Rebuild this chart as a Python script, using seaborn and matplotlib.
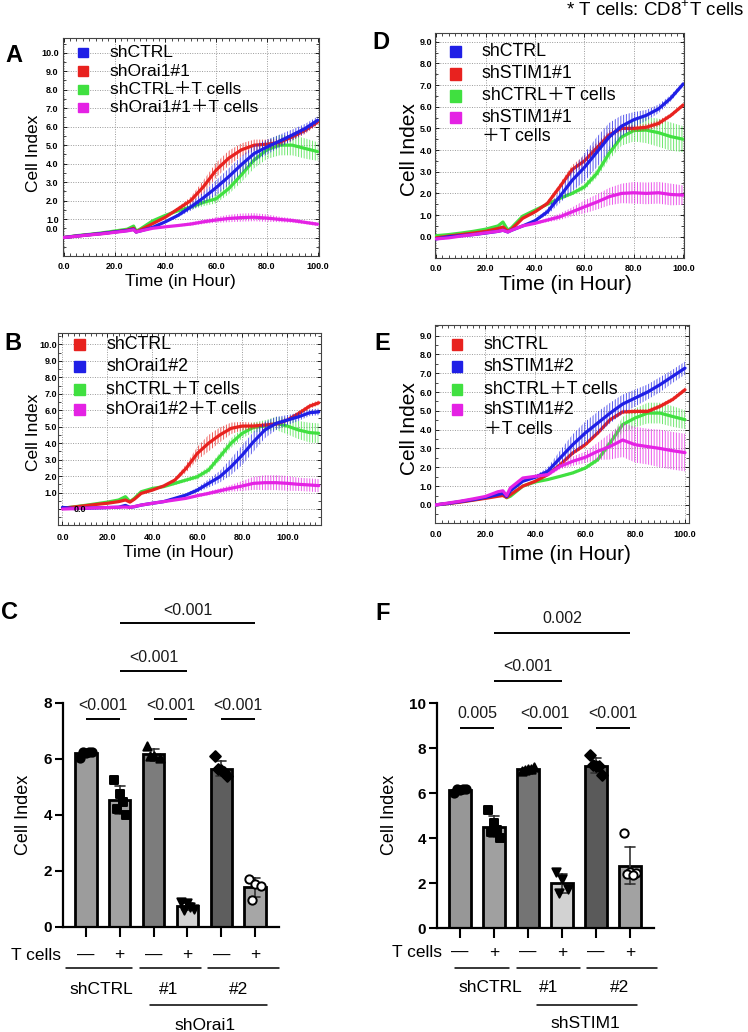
import numpy as np
import pandas as pd
import matplotlib
matplotlib.use("Agg")
import matplotlib.pyplot as plt
import seaborn as sns
from matplotlib.colors import to_rgba
from matplotlib.patches import Rectangle
from matplotlib.ticker import MultipleLocator
from matplotlib.transforms import blended_transform_factory

# ---- time course data (Cell Index) ----
t_a = [0, 5, 10, 15, 20, 25, 27.5, 28.5, 30, 35, 40, 45, 50, 55, 60, 65, 70, 75, 80, 85, 90, 95, 100]
a_ctrl = [0.0, 0.08, 0.15, 0.22, 0.3, 0.38, 0.45, 0.3, 0.35, 0.55, 0.85, 1.2, 1.65, 2.15, 2.7, 3.3, 3.95, 4.55, 4.9, 5.22, 5.55, 5.9, 6.35]
a_orai1 = [0.0, 0.08, 0.15, 0.22, 0.3, 0.4, 0.5, 0.3, 0.4, 0.75, 1.1, 1.55, 2.0, 2.75, 3.65, 4.3, 4.75, 5.0, 5.05, 5.15, 5.45, 5.8, 6.25]
a_ctrl_t = [0.0, 0.1, 0.17, 0.25, 0.35, 0.45, 0.62, 0.35, 0.45, 0.9, 1.2, 1.45, 1.65, 1.9, 2.1, 2.65, 3.4, 4.2, 4.75, 5.0, 5.0, 4.82, 4.65]
a_orai1_t = [0.0, 0.07, 0.14, 0.2, 0.28, 0.36, 0.42, 0.3, 0.35, 0.5, 0.58, 0.65, 0.73, 0.85, 0.95, 1.03, 1.08, 1.1, 1.05, 0.98, 0.92, 0.82, 0.72]
a_ctrl_sd = [0, 0, 0, 0, 0, 0, 0, 0, 0, 0, 0.05, 0.1, 0.2, 0.3, 0.4, 0.45, 0.45, 0.45, 0.4, 0.35, 0.3, 0.25, 0.2]
a_orai1_sd = [0, 0, 0, 0, 0, 0, 0, 0, 0, 0, 0.05, 0.1, 0.2, 0.35, 0.4, 0.4, 0.35, 0.3, 0.25, 0.2, 0.2, 0.2, 0.15]
a_ctrl_t_sd = [0, 0, 0, 0, 0, 0, 0, 0, 0, 0, 0.05, 0.1, 0.15, 0.2, 0.25, 0.3, 0.4, 0.45, 0.5, 0.55, 0.55, 0.55, 0.5]
a_orai1_t_sd = [0, 0, 0, 0, 0, 0, 0, 0, 0, 0, 0.02, 0.05, 0.1, 0.12, 0.15, 0.2, 0.22, 0.22, 0.2, 0.15, 0.12, 0.1, 0.1]

t_b = [0, 5, 10, 15, 20, 25, 28, 30, 32, 35, 40, 45, 50, 55, 60, 65, 70, 75, 80, 85, 90, 95, 100, 105, 110, 114]
b_ctrl = [0.05, 0.12, 0.2, 0.28, 0.35, 0.45, 0.55, 0.42, 0.6, 0.95, 1.15, 1.4, 1.76, 2.47, 3.38, 4.0, 4.5, 4.9, 5.04, 5.04, 5.1, 5.16, 5.4, 5.8, 6.25, 6.45]
b_orai1 = [0.1, 0.03, 0.05, 0.07, 0.09, 0.11, 0.22, 0.1, 0.14, 0.24, 0.35, 0.45, 0.65, 0.85, 1.15, 1.56, 1.96, 2.57, 3.28, 4.09, 4.8, 5.2, 5.4, 5.6, 5.85, 5.9]
b_ctrl_t = [0.05, 0.13, 0.22, 0.32, 0.42, 0.55, 0.75, 0.45, 0.65, 1.05, 1.25, 1.36, 1.56, 1.76, 1.96, 2.37, 3.18, 4.0, 4.6, 4.96, 5.04, 5.2, 5.04, 4.8, 4.64, 4.6]
b_orai1_t = [0.0, 0.02, 0.05, 0.07, 0.09, 0.11, 0.12, 0.1, 0.15, 0.24, 0.35, 0.45, 0.55, 0.65, 0.81, 0.95, 1.11, 1.26, 1.4, 1.56, 1.6, 1.6, 1.56, 1.5, 1.46, 1.42]
b_ctrl_sd = [0, 0, 0, 0, 0, 0, 0, 0, 0, 0, 0, 0.05, 0.1, 0.25, 0.4, 0.5, 0.45, 0.35, 0.25, 0.2, 0.15, 0.15, 0.15, 0.15, 0.15, 0.15]
b_orai1_sd = [0, 0, 0, 0, 0, 0, 0, 0, 0, 0, 0, 0.0, 0.05, 0.1, 0.15, 0.25, 0.35, 0.5, 0.6, 0.6, 0.5, 0.4, 0.3, 0.25, 0.2, 0.2]
b_ctrl_t_sd = [0, 0, 0, 0, 0, 0, 0, 0, 0, 0, 0, 0.05, 0.1, 0.12, 0.15, 0.2, 0.25, 0.3, 0.3, 0.3, 0.35, 0.4, 0.5, 0.55, 0.6, 0.6]
b_orai1_t_sd = [0, 0, 0, 0, 0, 0, 0, 0, 0, 0, 0, 0.0, 0.05, 0.05, 0.1, 0.12, 0.15, 0.2, 0.3, 0.4, 0.45, 0.45, 0.45, 0.4, 0.4, 0.4]

t_d = [0, 5, 10, 15, 20, 25, 27, 29, 30.5, 35, 40, 45, 50, 55, 60, 65, 70, 75, 80, 85, 90, 95, 100]
d_ctrl = [-0.1, 0.0, 0.05, 0.1, 0.17, 0.25, 0.3, 0.22, 0.3, 0.5, 0.74, 1.15, 1.85, 2.6, 3.2, 3.9, 4.6, 5.1, 5.4, 5.6, 5.9, 6.4, 7.05]
d_stim1 = [-0.05, 0.03, 0.1, 0.17, 0.25, 0.38, 0.45, 0.25, 0.35, 0.85, 1.15, 1.54, 2.3, 3.1, 3.5, 4.1, 4.7, 5.0, 5.0, 5.05, 5.23, 5.6, 6.08]
d_ctrl_t = [0.05, 0.1, 0.17, 0.25, 0.35, 0.5, 0.68, 0.3, 0.42, 0.95, 1.23, 1.5, 1.77, 2.0, 2.3, 2.92, 3.85, 4.6, 4.9, 4.92, 4.8, 4.62, 4.5]
d_stim1_t = [-0.1, -0.05, 0.03, 0.1, 0.18, 0.25, 0.3, 0.22, 0.3, 0.5, 0.62, 0.77, 0.92, 1.15, 1.38, 1.6, 1.85, 2.0, 2.03, 2.0, 2.03, 1.95, 1.92]
d_ctrl_sd = [0, 0, 0, 0, 0, 0, 0, 0, 0, 0, 0.05, 0.15, 0.3, 0.5, 0.65, 0.7, 0.65, 0.5, 0.35, 0.25, 0.2, 0.15, 0.1]
d_stim1_sd = [0, 0, 0, 0, 0, 0, 0, 0, 0, 0, 0.05, 0.1, 0.15, 0.2, 0.25, 0.25, 0.2, 0.15, 0.15, 0.15, 0.15, 0.1, 0.1]
d_ctrl_t_sd = [0, 0, 0, 0, 0, 0, 0, 0, 0, 0, 0.02, 0.05, 0.08, 0.1, 0.15, 0.2, 0.3, 0.4, 0.5, 0.6, 0.65, 0.65, 0.6]
d_stim1_t_sd = [0, 0, 0, 0, 0, 0, 0, 0, 0, 0, 0.05, 0.1, 0.15, 0.2, 0.3, 0.35, 0.4, 0.45, 0.5, 0.5, 0.5, 0.5, 0.45]

t_e = [0, 5, 10, 15, 20, 25, 27, 28.5, 30, 35, 40, 45, 50, 55, 60, 65, 70, 75, 80, 85, 90, 95, 100]
e_ctrl = [0.0, 0.07, 0.15, 0.25, 0.35, 0.46, 0.5, 0.4, 0.55, 1.0, 1.26, 1.61, 2.14, 2.76, 3.2, 3.82, 4.53, 4.94, 4.97, 4.97, 5.24, 5.6, 6.12]
e_stim1 = [0.0, 0.08, 0.18, 0.28, 0.4, 0.55, 0.62, 0.45, 0.75, 1.26, 1.47, 1.79, 2.5, 3.2, 3.82, 4.35, 4.88, 5.36, 5.68, 6.0, 6.39, 6.83, 7.27]
e_ctrl_t = [0.0, 0.08, 0.17, 0.27, 0.38, 0.55, 0.6, 0.38, 0.46, 1.0, 1.22, 1.35, 1.52, 1.7, 1.96, 2.4, 3.3, 4.27, 4.62, 4.88, 4.88, 4.7, 4.53]
e_stim1_t = [0.0, 0.1, 0.2, 0.32, 0.45, 0.7, 0.75, 0.5, 0.9, 1.43, 1.52, 1.61, 2.05, 2.32, 2.53, 2.85, 3.11, 3.45, 3.2, 3.1, 3.0, 2.88, 2.78]
e_ctrl_sd = [0, 0, 0, 0, 0, 0, 0, 0, 0, 0, 0.05, 0.08, 0.1, 0.12, 0.12, 0.12, 0.12, 0.12, 0.12, 0.12, 0.12, 0.12, 0.12]
e_stim1_sd = [0, 0, 0, 0, 0, 0, 0, 0, 0, 0, 0.1, 0.2, 0.4, 0.55, 0.6, 0.6, 0.55, 0.5, 0.45, 0.4, 0.4, 0.35, 0.35]
e_ctrl_t_sd = [0, 0, 0, 0, 0, 0, 0, 0, 0, 0, 0.02, 0.05, 0.05, 0.08, 0.1, 0.15, 0.25, 0.4, 0.5, 0.55, 0.55, 0.55, 0.5]
e_stim1_t_sd = [0, 0, 0, 0, 0, 0, 0, 0, 0, 0, 0.05, 0.1, 0.15, 0.25, 0.3, 0.45, 0.7, 0.9, 0.95, 0.95, 1.0, 1.0, 1.0]

# ---- end point bars (individual replicates) ----
bar_groups = ["shCTRL -", "shCTRL +", "#1 -", "#1 +", "#2 -", "#2 +"]
c_ctrl = [6.05, 6.2, 6.25, 6.25, 6.25]
c_ctrl_t = [5.25, 4.75, 4.0, 4.2, 4.45]
c_orai1_1 = [6.45, 6.1, 6.05, 6.1]
c_orai1_1_t = [0.9, 0.85, 0.65, 0.6, 0.7]
c_orai1_2 = [6.1, 5.6, 5.4, 5.65, 5.55]
c_orai1_2_t = [1.7, 1.55, 1.45, 0.95]
f_ctrl = [6.0, 6.15, 6.2, 6.2, 6.2]
f_ctrl_t = [5.25, 4.7, 4.0, 4.3, 4.35]
f_stim1_1 = [7.0, 7.1, 7.15, 7.05, 7.1]
f_stim1_1_t = [2.5, 2.2, 1.75, 1.55]
f_stim1_2 = [7.7, 7.2, 6.8, 7.25, 7.2]
f_stim1_2_t = [4.25, 2.5, 2.45, 2.4, 2.35]
c_pvals = ["<0.001", "<0.001", "<0.001", "<0.001", "<0.001"]
f_pvals = ["0.005", "<0.001", "<0.001", "<0.001", "0.002"]

BLUE, RED, GREEN, MAG = "#1f1fe6", "#e8221f", "#40e040", "#e422e4"
LAYER = {GREEN: 3, RED: 4, BLUE: 5, MAG: 6}

sns.set_theme(style="white")
plt.rcParams["font.family"] = ["Liberation Sans", "Noto Sans CJK JP", "DejaVu Sans"]
plt.rcParams["mathtext.fontset"] = "custom"
plt.rcParams["mathtext.rm"] = "Liberation Sans"
plt.rcParams["hatch.linewidth"] = 0.7
for k in ["text.color", "axes.labelcolor", "xtick.color", "ytick.color"]:
    plt.rcParams[k] = "black"

W, H = 748, 1032
fig = plt.figure(figsize=(W / 100, H / 100), dpi=100)


def fx(x):
    return x / W


def fy(y):
    return 1 - y / H


def rect(l, t, r, b):
    return [l / W, 1 - b / H, (r - l) / W, (b - t) / H]


def time_panel(box, t, series, xlim, ylim, ytop, xpad, ypad):
    ax = fig.add_axes(rect(*box))
    for label, color, mean, sd in series:
        m, s = np.array(mean), np.array(sd)
        z = LAYER[color]
        with plt.rc_context({"hatch.color": color}):
            ax.fill_between(t, m - s, m + s, facecolor="none",
                            edgecolor=to_rgba(color, 0.75), hatch="||||||",
                            linewidth=0, zorder=z - 0.5)
        sns.lineplot(x=t, y=m, color=color, linewidth=2.3, ax=ax, zorder=z)
    ax.set_xlim(*xlim)
    ax.set_ylim(*ylim)
    ax.set_xticks(np.arange(0, 101, 20))
    ax.set_xticklabels([f"{v:.1f}" for v in np.arange(0, 101, 20)])
    ax.set_yticks(np.arange(0, ytop + 1))
    ax.set_yticklabels([f"{v:.1f}" for v in np.arange(0, ytop + 1)])
    ax.xaxis.set_minor_locator(MultipleLocator(2.5))
    ax.yaxis.set_minor_locator(MultipleLocator(0.5))
    ax.tick_params(which="both", direction="in", top=True, bottom=True,
                   left=True, right=True)
    ax.tick_params(which="major", length=3, width=0.6, labelsize=6.5)
    ax.tick_params(which="minor", length=2, width=0.5)
    ax.tick_params(axis="x", pad=xpad)
    ax.tick_params(axis="y", pad=ypad)
    for lab in ax.get_xticklabels() + ax.get_yticklabels():
        lab.set_fontweight("bold")
    ax.grid(True, which="major", linestyle=(0, (1, 1.5)), color="#9a9a9a",
            linewidth=0.7)
    ax.set_axisbelow(True)
    for sp in ax.spines.values():
        sp.set_linewidth(0.8)
        sp.set_color("#444444")
    ax.set_xlabel("")
    ax.set_ylabel("")
    return ax


def key(rows, sq_x, txt_x, sq, fs):
    for (label, color), y in rows:
        if color is not None:
            fig.add_artist(Rectangle((fx(sq_x - sq / 2), fy(y + sq / 2)),
                                     sq / W, sq / H, color=color,
                                     transform=fig.transFigure))
        fig.text(fx(txt_x), fy(y), label, fontsize=fs, ha="left", va="center")


def bar_panel(box, groups, reps, colors, markers, xlim, ylim, yticks):
    ax = fig.add_axes(rect(*box))
    df = pd.DataFrame({"group": np.repeat(groups, [len(r) for r in reps]),
                       "value": np.concatenate(reps)})
    sns.barplot(data=df, x="group", y="value", hue="group", order=groups,
                hue_order=groups, palette=colors, legend=False,
                errorbar="sd", capsize=0.3,
                err_kws={"color": "#333333", "linewidth": 1.2},
                edgecolor="black", linewidth=2.0, width=0.64, ax=ax)
    spread = [-0.18, 0.0, 0.18, -0.09, 0.09]
    for i, (r, mk) in enumerate(zip(reps, markers)):
        open_mk = mk == "O"
        ax.scatter(i + np.array(spread[:len(r)]), r,
                   marker="o" if open_mk else mk,
                   s=30 if mk == "D" else 36,
                   facecolor="white" if open_mk else "black",
                   edgecolor="black", linewidth=1.4, zorder=5)
    ax.set_xlim(*xlim)
    ax.set_ylim(*ylim)
    ax.set_yticks(yticks)
    sns.despine(ax=ax)
    for s in ["left", "bottom"]:
        ax.spines[s].set_linewidth(1.6)
        ax.spines[s].set_color("black")
    ax.tick_params(axis="y", left=True, length=6, width=1.5, labelsize=11,
                   pad=2)
    ax.tick_params(axis="x", bottom=True, length=7, width=1.5,
                   labelbottom=False)
    for lab in ax.get_yticklabels():
        lab.set_fontweight("bold")
    ax.set_xlabel("")
    ax.set_ylabel("")
    return ax


def sig(ax, pairs, pvals):
    for (i, j, yl, yt), p in zip(pairs, pvals):
        ax.plot([i, j], [yl, yl], color="black", linewidth=1.4,
                solid_capstyle="butt", clip_on=False)
        ax.text((i + j) / 2, yt, p, ha="center", va="center", fontsize=11.5,
                color="#1a1a1a", clip_on=False)


def group_axis(ax, row_y, cells, spans, labels, span2, name, name_x):
    tr = blended_transform_factory(ax.transData, fig.transFigure)
    ty, ly, gy, ly2, ny = row_y
    ax.text(cells[0], fy(ty), "T cells", ha="right", va="center",
            fontsize=12.5, transform=tr)
    for i in range(6):
        ax.text(i, fy(ty), "—" if i % 2 == 0 else "+", ha="center",
                va="center", fontsize=12.5, transform=tr)
    for (a, b) in spans:
        ax.plot([a, b], [fy(ly), fy(ly)], color="black", linewidth=1.1,
                transform=tr, clip_on=False)
    for (x, lab) in labels:
        ax.text(x, fy(gy), lab, ha="center", va="center", fontsize=12.5,
                transform=tr)
    ax.plot(span2, [fy(ly2), fy(ly2)], color="black", linewidth=1.1,
            transform=tr, clip_on=False)
    ax.text(name_x, fy(ny), name, ha="center", va="center", fontsize=12.5,
            transform=tr)


# ---- A ----
axA = time_panel((63, 38, 319, 256), t_a,
                 [("shCTRL", BLUE, a_ctrl, a_ctrl_sd),
                  ("shOrai1#1", RED, a_orai1, a_orai1_sd),
                  ("shCTRL＋T cells", GREEN, a_ctrl_t, a_ctrl_t_sd),
                  ("shOrai1#1＋T cells", MAG, a_orai1_t, a_orai1_t_sd)],
                 (-0.3, 100.5), (-1.0, 10.8), 10, 4.5, 3.2)
labs = axA.get_yticklabels()
labs[0].set_text("")
axA.set_yticklabels(labs)
axA.text(-0.018, 0.43, "0.0", ha="right", va="center", fontsize=6.5,
         fontweight="bold",
         transform=blended_transform_factory(axA.transAxes, axA.transData))
key([(("shCTRL", BLUE), 52.7), (("shOrai1#1", RED), 71),
     (("shCTRL＋T cells", GREEN), 89.3), (("shOrai1#1＋T cells", MAG), 107.7)],
    83, 110, 9.5, 12.6)

# ---- B ----
axB = time_panel((58, 333, 321, 525), t_b,
                 [("shCTRL", RED, b_ctrl, b_ctrl_sd),
                  ("shOrai1#2", BLUE, b_orai1, b_orai1_sd),
                  ("shCTRL＋T cells", GREEN, b_ctrl_t, b_ctrl_t_sd),
                  ("shOrai1#2＋T cells", MAG, b_orai1_t, b_orai1_t_sd)],
                 (-2, 115), (-0.97, 10.69), 10, 6, 0.5)
labs = axB.get_yticklabels()
labs[0].set_text("")
axB.set_yticklabels(labs)
axB.text(0.084, 0.0, "0.0", ha="center", va="center", fontsize=6.5,
         fontweight="bold", zorder=10,
         transform=blended_transform_factory(axB.transAxes, axB.transData))
key([(("shCTRL", RED), 344.3), (("shOrai1#2", BLUE), 366.7),
     (("shCTRL＋T cells", GREEN), 389), (("shOrai1#2＋T cells", MAG), 410)],
    79, 106, 11, 12.8)

# ---- D ----
axD = time_panel((435, 33, 684, 258), t_d,
                 [("shCTRL", BLUE, d_ctrl, d_ctrl_sd),
                  ("shSTIM1#1", RED, d_stim1, d_stim1_sd),
                  ("shCTRL＋T cells", GREEN, d_ctrl_t, d_ctrl_t_sd),
                  ("shSTIM1#1 ＋T cells", MAG, d_stim1_t, d_stim1_t_sd)],
                 (-0.5, 100.3), (-0.98, 9.4), 9, 4.5, 2.2)
key([(("shCTRL", BLUE), 51.7), (("shSTIM1#1", RED), 74),
     (("shCTRL＋T cells", GREEN), 96), (("shSTIM1#1", MAG), 117.3),
     (("＋T cells", None), 136.7)],
    455.7, 482, 11, 12.8)

# ---- E ----
axE = time_panel((435, 325, 689, 523), t_e,
                 [("shCTRL", RED, e_ctrl, e_ctrl_sd),
                  ("shSTIM1#2", BLUE, e_stim1, e_stim1_sd),
                  ("shCTRL＋T cells", GREEN, e_ctrl_t, e_ctrl_t_sd),
                  ("shSTIM1#2 ＋T cells", MAG, e_stim1_t, e_stim1_t_sd)],
                 (-0.2, 101.6), (-0.96, 9.56), 9, 5, 2)
key([(("shCTRL", RED), 344.3), (("shSTIM1#2", BLUE), 366.7),
     (("shCTRL＋T cells", GREEN), 389), (("shSTIM1#2", MAG), 410),
     (("＋T cells", None), 429.3)],
    457, 484, 11, 12.8)

# axis titles of the time panels
for (yx, yy, xx, xy, fs) in [(33, 153, 180, 281.7, 12.5), (33, 432.7, 178, 553, 12.5),
                             (409.7, 150, 565.7, 285, 15), (409.7, 428.3, 564.7, 555, 15)]:
    fig.text(fx(yx), fy(yy), "Cell Index", rotation=90, ha="center",
             va="center", fontsize=fs)
    fig.text(fx(xx), fy(xy), "Time (in Hour)", ha="center", va="center",
             fontsize=fs)

# ---- C ----
axC = bar_panel((63, 703, 279, 927), bar_groups,
                [c_ctrl, c_ctrl_t, c_orai1_1, c_orai1_1_t, c_orai1_2, c_orai1_2_t],
                ["#9c9c9c", "#a2a2a2", "#7c7c7c", "#d2d2d2", "#5e5e5e", "#a6a6a6"],
                ["o", "s", "^", "v", "D", "O"],
                (-0.67, 5.70), (0, 8), [0, 2, 4, 6, 8])
sig(axC, [(0, 1, 7.43, 7.9), (2, 3, 7.43, 7.9), (4, 5, 7.43, 7.9),
          (1, 3, 9.15, 9.62), (1, 5, 10.85, 11.32)], c_pvals)
group_axis(axC, (955, 968, 989, 1005, 1025), [-0.72],
           [(-0.58, 1.37), (1.60, 3.41), (3.61, 5.70)],
           [(0.45, "shCTRL"), (2.43, "#1"), (4.5, "#2")],
           [1.90, 5.35], "shOrai1", 3.52)

# ---- F ----
axF = bar_panel((437, 703.3, 654, 928.3), bar_groups,
                [f_ctrl, f_ctrl_t, f_stim1_1, f_stim1_1_t, f_stim1_2, f_stim1_2_t],
                ["#979797", "#a0a0a0", "#747474", "#d2d2d2", "#5a5a5a", "#a2a2a2"],
                ["o", "s", "^", "v", "D", "O"],
                (-0.68, 5.71), (0, 10), [0, 2, 4, 6, 8, 10])
sig(axF, [(0, 1, 8.89, 9.56), (2, 3, 8.89, 9.56), (4, 5, 8.89, 9.56),
          (1, 3, 11.0, 11.62), (1, 5, 13.14, 13.75)], f_pvals)
group_axis(axF, (952.7, 968, 988, 1005, 1023), [-0.53],
           [(-0.15, 1.44), (1.68, 3.53), (3.74, 5.79)],
           [(0.88, "shCTRL"), (2.62, "#1"), (4.71, "#2")],
           [2.26, 5.21], "shSTIM1", 3.68)

for (x, y) in [(24, 815), (389, 815)]:
    fig.text(fx(x), fy(y), "Cell Index", rotation=90, ha="center",
             va="center", fontsize=13)

# panel letters and note
for letter, x, y in [("A", 13.7, 55), ("B", 13, 344), ("C", 9, 612.7),
                     ("D", 381, 42.7), ("E", 382, 344), ("F", 383, 614)]:
    fig.text(fx(x), fy(y), letter, ha="center", va="center", fontsize=17,
             fontweight="bold")
fig.text(fx(744), fy(10), r"* T cells: CD8$^{+}$T cells", ha="right",
         va="center", fontsize=13.5)

fig.savefig("out.png", dpi=100)
